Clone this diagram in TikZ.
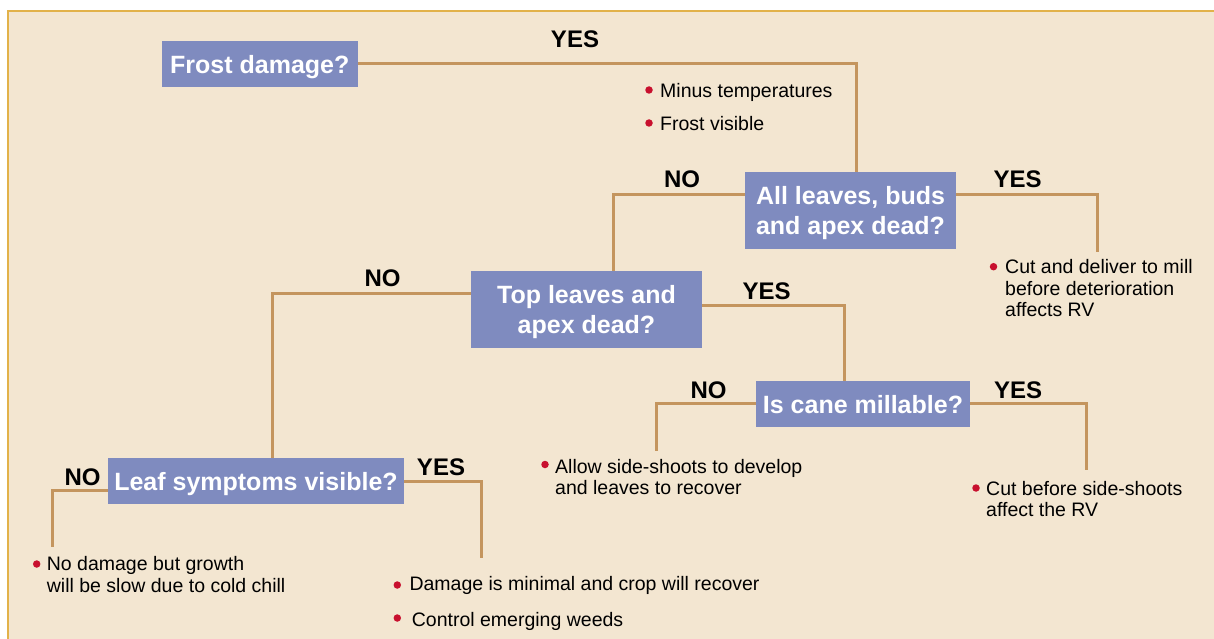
\documentclass[tikz,border=0pt]{standalone}
\usepackage{fontspec}
\setmainfont{Liberation Sans}
\usetikzlibrary{calc}
\definecolor{bgc}{HTML}{F3E6D1}
\definecolor{framec}{HTML}{E2B24A}
\definecolor{boxc}{HTML}{7F8BBF}
\definecolor{linec}{HTML}{C4955E}
\definecolor{bulc}{HTML}{C8102E}
\begin{document}
\begin{tikzpicture}[x=1pt,y=-1pt,
  qbox/.style={fill=boxc, text=white, font=\fontsize{25}{30.7}\selectfont\bfseries,
    align=center, inner sep=0pt, text depth=0pt},
  lab/.style={font=\fontsize{24}{24}\selectfont\bfseries, inner sep=0pt, text depth=0pt},
  btext/.style={anchor=base west, inner sep=0pt, font=\fontsize{19.5}{21.7}\selectfont},
  bullet/.style={circle, fill=bulc, minimum size=7.5pt, inner sep=0pt},
  conn/.style={draw=linec, line width=3pt}]
\useasboundingbox (0,0) rectangle (1214,639);
% frame
\fill[bgc] (8,11) rectangle (1214,639);
\draw[framec, line width=2pt] (8,639) -- (8,11) -- (1214,11);

% question boxes
\node[qbox, minimum width=195.7pt, minimum height=45.4pt] (f) at (259.8,64) {Frost damage?};
\node[qbox, minimum width=211pt, minimum height=77pt] (a) at (850.5,210.5) {All leaves, buds\\and apex dead?};
\node[qbox, minimum width=231pt, minimum height=77pt] (t) at (586.5,309.5) {Top leaves and\\apex dead?};
\node[qbox, minimum width=214pt, minimum height=46pt] (m) at (863,404) {Is cane millable?};
\node[qbox, minimum width=296pt, minimum height=46pt] (l) at (256,481) {Leaf symptoms visible?};

% free ends
\coordinate (e1) at (1097,252);
\coordinate (e2) at (656,451);
\coordinate (e3) at (1086,470);
\coordinate (e4) at (52.3,547);
\coordinate (e5) at (481.7,558);

% connectors
\draw[conn] (f.east) -| ([xshift=5.5pt]a.north);
\draw[conn] ([yshift=16.5pt]a.west) -| ([xshift=26.5pt]t.north);
\draw[conn] ([yshift=16.5pt]a.east) -| (e1);
\draw[conn] ([yshift=16.5pt]t.west) -| ([xshift=16pt]l.north);
\draw[conn] ([yshift=4.5pt]t.east) -| ([xshift=-18.5pt]m.north);
\draw[conn] ([yshift=0.5pt]m.west) -| (e2);
\draw[conn] ([yshift=0.5pt]m.east) -| (e3);
\draw[conn] ([yshift=-9.7pt]l.west) -| (e4);
\draw[conn] (l.east) -| (e5);

% labels
\node[lab] (y1) at (575,39) {YES};
\node[lab] (n1) at (682,179) {NO};
\node[lab] (y2) at (1017.5,179) {YES};
\node[lab] (n2) at (382.5,278) {NO};
\node[lab] (y3) at (766.5,291) {YES};
\node[lab] (n3) at (708.5,390) {NO};
\node[lab] (y4) at (1018,390) {YES};
\node[lab] (n4) at (82.5,477) {NO};
\node[lab] (y5) at (441,467) {YES};

% bullets and texts
\node[bullet] (b1) at (649,90) {};
\node[btext] (t1) at (660,97.7) {Minus temperatures};
\node[bullet] (b2) at (649,123) {};
\node[btext] (t2) at (660,130.7) {Frost visible};
\node[bullet] (b3) at (993.5,266.7) {};
\node[btext] (t3) at (1005,273.3) {\begin{tabular}[t]{@{}l@{}}Cut and deliver to mill\\before deterioration\\affects RV\end{tabular}};
\node[bullet] (b4) at (545,464.5) {};
\node[btext] (t4) at (555,473) {\begin{tabular}[t]{@{}l@{}}Allow side-shoots to develop\\and leaves to recover\end{tabular}};
\node[bullet] (b5) at (976,488) {};
\node[btext] (t5) at (986,495) {\begin{tabular}[t]{@{}l@{}}Cut before side-shoots\\affect the RV\end{tabular}};
\node[bullet] (b6) at (36.7,564) {};
\node[btext] (t6) at (46.7,570.7) {\begin{tabular}[t]{@{}l@{}}No damage but growth\\will be slow due to cold chill\end{tabular}};
\node[bullet] (b7) at (397.3,585) {};
\node[btext] (t7) at (409.3,590.7) {Damage is minimal and crop will recover};
\node[bullet] (b8) at (397.3,618) {};
\node[btext] (t8) at (411.7,626.7) {Control emerging weeds};
\end{tikzpicture}
\end{document}
